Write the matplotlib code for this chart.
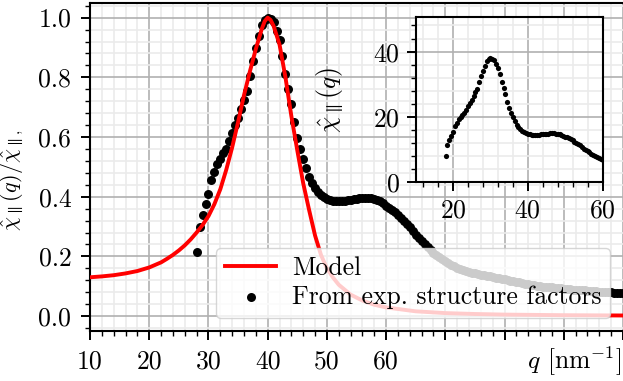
import numpy as np
import matplotlib
matplotlib.use('Agg')
import matplotlib.pyplot as plt
from matplotlib.ticker import MultipleLocator, FixedLocator

# 字体设置 (Computer Modern)
plt.rcParams['font.family'] = ['cmr10', 'DejaVu Serif']
plt.rcParams['mathtext.fontset'] = 'cm'
plt.rcParams['axes.formatter.use_mathtext'] = True
plt.rcParams['font.size'] = 18.5

# model curve (normalized)
q_model = [10, 12, 14, 16, 18, 20, 22, 23, 24, 25, 26, 27, 28, 29, 30, 31, 32, 33, 34, 35,
           36, 37, 38, 39, 39.5, 40, 40.5, 41, 42, 43, 44, 45, 46, 47, 48, 49, 50, 51, 52,
           54, 56, 58, 60, 65, 70, 75, 80, 90, 100]
chi_model = [0.130, 0.133, 0.137, 0.143, 0.151, 0.163, 0.180, 0.192, 0.205, 0.220, 0.237,
             0.257, 0.280, 0.305, 0.335, 0.375, 0.425, 0.490, 0.565, 0.650, 0.740, 0.820,
             0.895, 0.962, 0.988, 1.000, 0.992, 0.972, 0.910, 0.800, 0.670, 0.555, 0.445,
             0.355, 0.270, 0.205, 0.160, 0.130, 0.105, 0.072, 0.052, 0.038, 0.029, 0.016,
             0.010, 0.007, 0.005, 0.003, 0.002]

# experimental points (normalized), q grid step 0.5 from 28 to 100
q_exp = np.arange(28.0, 100.01, 0.5)
chi_exp = [0.216, 0.300, 0.340, 0.375, 0.410, 0.455, 0.482, 0.508, 0.528, 0.545,
           0.560, 0.585, 0.612, 0.640, 0.665, 0.695, 0.725, 0.755, 0.805, 0.855,
           0.898, 0.940, 0.975, 0.992, 1.000, 0.996, 0.985, 0.955, 0.925, 0.870,
           0.810, 0.760, 0.712, 0.650, 0.598, 0.560, 0.525, 0.495, 0.465, 0.445,
           0.430, 0.415, 0.405, 0.398, 0.392, 0.388, 0.386, 0.385, 0.385, 0.385,
           0.386, 0.388, 0.390, 0.391, 0.393, 0.394, 0.395, 0.395, 0.395, 0.394,
           0.392, 0.388, 0.384, 0.378, 0.370, 0.362, 0.355, 0.348, 0.338, 0.328,
           0.318, 0.308, 0.298, 0.285, 0.272, 0.262, 0.252, 0.242, 0.232, 0.222,
           0.213, 0.205, 0.197, 0.190, 0.183, 0.177, 0.172, 0.167, 0.162, 0.158,
           0.155, 0.152, 0.149, 0.146, 0.143, 0.141, 0.139, 0.137, 0.135, 0.133,
           0.131, 0.129, 0.127, 0.125, 0.123, 0.121, 0.119, 0.117, 0.115, 0.113,
           0.111, 0.109, 0.107, 0.105, 0.103, 0.102, 0.100, 0.099, 0.098, 0.097,
           0.096, 0.095, 0.094, 0.093, 0.092, 0.091, 0.090, 0.089, 0.088, 0.087,
           0.086, 0.086, 0.085, 0.084, 0.083, 0.083, 0.082, 0.081, 0.081, 0.080,
           0.080, 0.079, 0.079, 0.078, 0.078]
chi_max = 38.0      # 未归一化峰值
q_offset = 10.0     # inset q shift

xticks_main = [10, 20, 30, 40, 50, 60, 70, 80, 90, 100]
xticklabels_main = ['10', '20', '30', '40', '50', '60', '', '', '', '']
yticks_main = [0.0, 0.2, 0.4, 0.6, 0.8, 1.0]


def style_axes(ax, xminor, yminor):
    ax.xaxis.set_minor_locator(MultipleLocator(xminor))
    ax.yaxis.set_minor_locator(MultipleLocator(yminor))
    ax.grid(which='major', color='#b0b0b0', lw=1.2, zorder=0)
    ax.grid(which='minor', color='#ebebeb', lw=1.2, zorder=0)
    ax.set_axisbelow(True)
    ax.tick_params(which='major', length=6.5, width=1.4, direction='out', pad=7)
    ax.tick_params(which='minor', length=3.5, width=1.0, direction='out')
    for s in ax.spines.values():
        s.set_linewidth(1.5)


fig = plt.figure(figsize=(6.23, 3.81), dpi=100)
ax = fig.add_axes([0.1445, 0.1312, 0.8555, 0.8617])

ax.scatter(q_exp, chi_exp, s=42, color='k', lw=0, zorder=2, label='From exp. structure factors')
ax.plot(q_model, chi_model, color='red', lw=2.8, zorder=3, label='Model')
ax.set_xlim(10, 100)
ax.set_ylim(-0.05, 1.05)
ax.xaxis.set_major_locator(FixedLocator(xticks_main))
ax.set_xticklabels(xticklabels_main)
ax.set_yticks(yticks_main)
ax.set_yticklabels([f'{v:.1f}' for v in yticks_main])
style_axes(ax, 2, 0.04)
ax.spines['right'].set_visible(False)

ax.set_xlabel(r'$q$ [nm$^{-1}$]', ha='right', va='top')
ax.xaxis.set_label_coords(0.997, -0.043)
ax.set_ylabel(r'$\hat{\chi}_{\parallel}(q)/\hat{\chi}_{\parallel,}$', fontsize=16)
ax.yaxis.set_label_coords(-0.12, 0.46)

h, l = ax.get_legend_handles_labels()
leg = ax.legend(h[::-1], l[::-1], loc='lower right', fontsize=18.5, framealpha=0.8,
                borderaxespad=0.5, handletextpad=0.6, labelspacing=0.2,
                borderpad=0.35, handlelength=2.0)

# inset
axin = fig.add_axes([0.6673, 0.521, 0.2998, 0.4336])
axin.scatter(q_exp - q_offset, np.array(chi_exp) * chi_max, s=14, color='k', lw=0, zorder=2)
axin.set_xlim(10, 60)
axin.set_ylim(0, 50.5)
axin.set_xticks([20, 40, 60])
axin.set_yticks([0, 20, 40])
style_axes(axin, 4, 4)
axin.tick_params(which='major', pad=5)
axin.set_ylabel(r'$\hat{\chi}_{\parallel}(q)$')
axin.yaxis.set_label_coords(-0.378, 0.5)

plt.savefig('out.png', dpi=100)
